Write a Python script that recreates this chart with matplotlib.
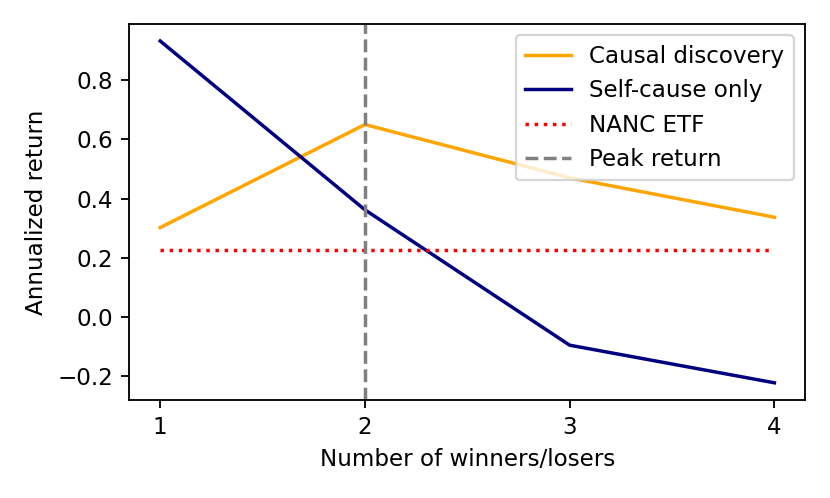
import matplotlib
matplotlib.use("Agg")
import matplotlib.pyplot as plt

n_stocks = [1, 2, 3, 4]
causal_discovery = [0.302, 0.650, 0.470, 0.337]
self_cause = [0.932, 0.362, -0.095, -0.222]
nanc_etf = 0.228
peak_n = 2

fig, ax = plt.subplots(figsize=(5, 3), dpi=166)
fig.subplots_adjust(left=0.156, right=0.970, top=0.952, bottom=0.197)

ax.plot(n_stocks, causal_discovery, color="orange", label="Causal discovery")
ax.plot(n_stocks, self_cause, color="navy", label="Self-cause only")
ax.plot(n_stocks, [nanc_etf] * len(n_stocks), color="red", linestyle=":", label="NANC ETF")
ax.axvline(peak_n, color="gray", linestyle="--", label="Peak return")

ax.set_xticks(n_stocks)
ax.set_yticks([-0.2, 0.0, 0.2, 0.4, 0.6, 0.8])
ax.set_xlabel("Number of winners/losers")
ax.set_ylabel("Annualized return")
ax.legend(loc="upper right")

fig.savefig("out.png", dpi=166)
